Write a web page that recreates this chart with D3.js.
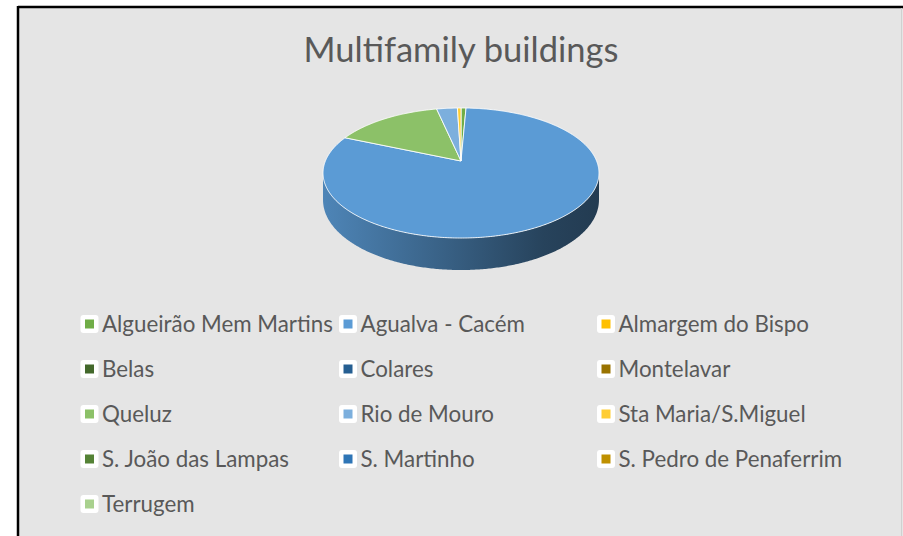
<!DOCTYPE html>
<html>
<head>
<meta charset="utf-8">
<script src="https://cdn.jsdelivr.net/npm/d3@7"></script>
<style>
  html, body { margin: 0; padding: 0; background: #ffffff; }
  svg { display: block; }
  text { font-family: Lato, "Open Sans", "Noto Sans", sans-serif; }
</style>
</head>
<body>
<svg id="chart" width="903" height="536"></svg>
<script>
// Share of multifamily buildings per parish (%)
const parishes = [
  "Algueirão Mem Martins", "Agualva - Cacém", "Almargem do Bispo",
  "Belas", "Colares", "Montelavar",
  "Queluz", "Rio de Mouro", "Sta Maria/S.Miguel",
  "S. João das Lampas", "S. Martinho", "S. Pedro de Penaferrim",
  "Terrugem"
];
const shares = [0.7, 80.8, 0, 0, 0, 0, 15.1, 2.9, 0.5, 0, 0, 0, 0];
const palette = [
  "#70ad47", "#5b9bd5", "#ffc000",
  "#43682b", "#255e91", "#997300",
  "#8cc168", "#7cafdd", "#ffcd33",
  "#548235", "#2e75b6", "#bf9000",
  "#a9d18e"
];
const chartTitle = "Multifamily buildings";

const svg = d3.select("#chart");
const W = 903, H = 536;

// Chart frame
svg.append("rect").attr("x", 18).attr("y", 7).attr("width", W - 18).attr("height", H - 7)
  .attr("fill", "#e5e5e5");
svg.append("line").attr("x1", 18).attr("x2", W).attr("y1", 7).attr("y2", 7)
  .attr("stroke", "#000").attr("stroke-width", 2.5);
svg.append("line").attr("x1", 18).attr("x2", 18).attr("y1", 6).attr("y2", H)
  .attr("stroke", "#000").attr("stroke-width", 2.5);
svg.append("line").attr("x1", 901.5).attr("x2", 901.5).attr("y1", 8).attr("y2", H)
  .attr("stroke", "#d0d0d0").attr("stroke-width", 1);

// Title, sized to its box width
const title = svg.append("text").attr("text-anchor", "middle")
  .attr("x", 461).attr("y", 62).attr("fill", "#595959")
  .style("font-size", "30px").text(chartTitle);
{
  const w = title.node().getComputedTextLength();
  title.style("font-size", (30 * 315 / w).toFixed(2) + "px");
}

// 3D pie: tilted disc with a little perspective
const cx = 461, cy = 161;       // apex of the slices
const rx0 = 135.6, ry0 = 62.8;  // radii at the disc centre line
const persp = -0.1846;          // depth foreshortening
const depth0 = 26.1;            // thickness of the disc

function proj(theta, r = 1, z = 0) {
  const u = r * Math.sin(theta), v = -r * Math.cos(theta);
  const den = 1 + persp * v;
  return [cx + rx0 * u / den, cy + (ry0 * v + z * depth0) / den];
}

const pie = d3.pie().sort(null).value(d => d.value).startAngle(0).endAngle(2 * Math.PI);
const arcs = pie(parishes.map((name, i) => ({ name, value: shares[i], color: palette[i] })))
  .filter(a => a.value > 0);

const line = d3.line();
function sampleArc(a0, a1, z) {
  const n = Math.max(2, Math.ceil(Math.abs(a1 - a0) / 0.01));
  return d3.range(n + 1).map(k => proj(a0 + (a1 - a0) * k / n, 1, z));
}

// horizontal extent of the rim
const rxMax = rx0 / Math.sqrt(1 - persp * persp);
const visA = Math.acos(persp), visB = 2 * Math.PI - Math.acos(persp);

const defs = svg.append("defs");
const gPie = svg.append("g");

// Front walls
arcs.forEach((a, i) => {
  const s0 = Math.max(a.startAngle, visA), s1 = Math.min(a.endAngle, visB);
  if (s1 <= s0) return;
  const base = d3.rgb(a.data.color);
  const gid = "side" + i;
  const grad = defs.append("linearGradient").attr("id", gid)
    .attr("gradientUnits", "userSpaceOnUse")
    .attr("x1", cx - rxMax).attr("x2", cx + rxMax).attr("y1", 0).attr("y2", 0);
  [[0, 0.86], [0.45, 0.62], [0.8, 0.43], [1, 0.38]].forEach(([o, f]) => {
    grad.append("stop").attr("offset", o)
      .attr("stop-color", d3.rgb(base.r * f, base.g * f, base.b * f).formatHex());
  });
  const pts = sampleArc(s0, s1, 0).concat(sampleArc(s1, s0, 1));
  gPie.append("path").attr("d", line(pts) + "Z").attr("fill", `url(#${gid})`);
});

// Top faces
arcs.forEach(a => {
  const pts = [[cx, cy]].concat(sampleArc(a.startAngle, a.endAngle, 0));
  gPie.append("path").attr("d", line(pts) + "Z")
    .attr("fill", a.data.color)
    .attr("stroke", "#ffffff").attr("stroke-opacity", 0.85).attr("stroke-width", 1)
    .attr("stroke-linejoin", "round");
});

// Legend, three columns
const colX = [89.5, 348, 606];
const rowY = [324, 369, 414, 459, 504];
const legend = svg.append("g");
const items = legend.selectAll("g").data(parishes).join("g")
  .attr("transform", (d, i) => `translate(${colX[i % 3]},${rowY[Math.floor(i / 3)]})`);
items.append("rect").attr("x", -9).attr("y", -9).attr("width", 18).attr("height", 18)
  .attr("rx", 3).attr("fill", "#ffffff");
items.append("rect").attr("x", -4.5).attr("y", -4.5).attr("width", 9).attr("height", 9)
  .attr("fill", (d, i) => palette[i]);
const labels = items.append("text").attr("x", 12.5).attr("y", 8)
  .attr("fill", "#595959").style("font-size", "20px").text(d => d);
{
  const w = labels.filter((d, i) => i === 0).node().getComputedTextLength();
  labels.style("font-size", (20 * 231 / w).toFixed(2) + "px");
}
</script>
</body>
</html>
